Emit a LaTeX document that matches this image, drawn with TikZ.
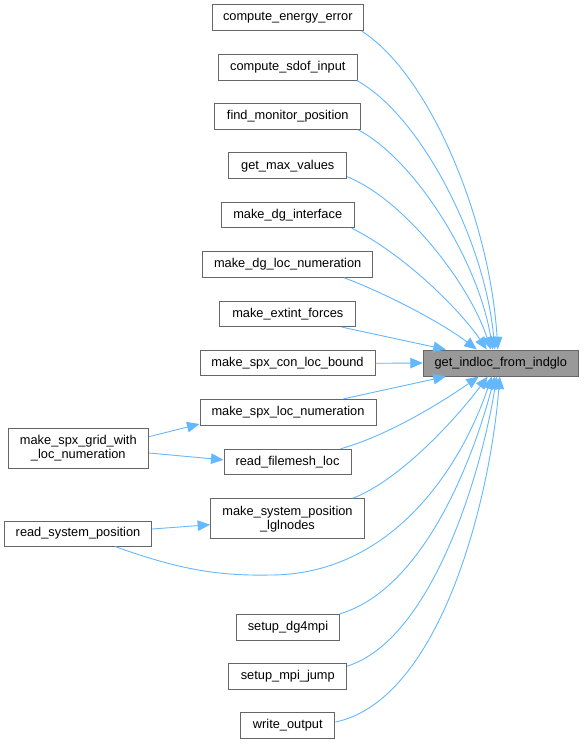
\documentclass[tikz,border=0pt]{standalone}
\usepackage{fontspec}
\setmainfont{Liberation Sans}
\usetikzlibrary{arrows.meta}
\definecolor{edgeblue}{HTML}{63B8FF}
\definecolor{boxgray}{HTML}{666666}
\definecolor{targetfill}{HTML}{999999}
\tikzset{
  fn/.style={draw=boxgray, line width=1pt, fill=white, inner sep=0pt, align=center,
    font=\fontsize{12.8}{14}\selectfont, text=black},
  tgt/.style={fn, fill=targetfill},
  call/.style={draw=edgeblue, line width=0.9pt, -{Triangle[length=12.5pt,width=10.5pt]}},
}
\begin{document}
\begin{tikzpicture}[x=1pt,y=-1pt]
\useasboundingbox[fill=white] (0,0) rectangle (584,744);
% nodes
\node[fn, minimum width=151pt, minimum height=25.7pt] (cee) at (287.8,17.8) {compute\_energy\_error};
\node[fn, minimum width=139pt, minimum height=25.7pt] (csi) at (287.8,67.2) {compute\_sdof\_input};
\node[fn, minimum width=145.7pt, minimum height=26pt] (fmp) at (287.8,116.3) {find\_monitor\_position};
\node[fn, minimum width=117.7pt, minimum height=26pt] (gmv) at (287.8,165.7) {get\_max\_values};
\node[fn, minimum width=133.3pt, minimum height=25pt] (mdi) at (287.7,215.2) {make\_dg\_interface};
\node[fn, minimum width=170pt, minimum height=25.6pt] (mdln) at (287.7,264.5) {make\_dg\_loc\_numeration};
\node[fn, minimum width=135.7pt, minimum height=25pt] (mef) at (287.8,314.2) {make\_extint\_forces};
\node[fn, minimum width=175pt, minimum height=25.3pt] (mscb) at (287.5,363.3) {make\_spx\_con\_loc\_bound};
\node[tgt, minimum width=155pt, minimum height=26pt] (target) at (500.8,363) {get\_indloc\_from\_indglo};
\node[fn, minimum width=176pt, minimum height=25.7pt] (msln) at (288,412.2) {make\_spx\_loc\_numeration};
\node[fn, minimum width=140pt, minimum height=40pt] (msgwln) at (78.3,448.3) {make\_spx\_grid\_with\\\_loc\_numeration};
\node[fn, minimum width=127pt, minimum height=25pt] (rfl) at (287.5,461.8) {read\_filemesh\_loc};
\node[fn, minimum width=153.7pt, minimum height=40pt] (mspl) at (287.5,518.7) {make\_system\_position\\\_lglnodes};
\node[fn, minimum width=147.4pt, minimum height=25pt] (rsp) at (78,533.5) {read\_system\_position};
\node[fn, minimum width=102.7pt, minimum height=25.7pt] (sdg) at (288,627.2) {setup\_dg4mpi};
\node[fn, minimum width=117.7pt, minimum height=25.7pt] (smj) at (287.8,676.5) {setup\_mpi\_jump};
\node[fn, minimum width=94.3pt, minimum height=25.7pt] (wo) at (287.8,725.5) {write\_output};
% edges to target (top)
\draw[call] ([xshift=-2pt]cee.south east) .. controls (430,75) and (490,220) .. ([xshift=-3pt]target.north);
\draw[call] ([xshift=-1pt]csi.south east) .. controls (420,115) and (485,240) .. ([xshift=-6pt]target.north);
\draw[call] ([xshift=-3pt]fmp.south east) .. controls (415,160) and (478,260) .. ([xshift=-8pt]target.north);
\draw[call] ([yshift=2.5pt]gmv.south east) .. controls (405,200) and (470,285) .. ([xshift=-10pt]target.north);
\draw[call] ([xshift=-3pt]mdi.south east) .. controls (405,255) and (460,310) .. ([xshift=-14pt]target.north);
\draw[call] ([xshift=-29pt]mdln.south east) .. controls (390,295) and (445,325) .. ([xshift=-24pt]target.north);
\draw[call] ([xshift=-14pt]mef.south east) -- ([xshift=-55pt]target.north);
\draw[call] (mscb.east) -- (target.west);
% edges to target (bottom)
\draw[call] ([xshift=-33pt]msln.north east) -- ([xshift=-55pt]target.south);
\draw[call] ([xshift=-11pt]rfl.north east) .. controls (390,435) and (445,400) .. ([xshift=-22pt]target.south);
\draw[call] ([xshift=-12pt]mspl.north east) .. controls (400,480) and (455,420) .. ([xshift=-13pt]target.south);
\draw[call] ([xshift=37pt]rsp.south) .. controls (180,570) and (220,576) .. (270,575)
   .. controls (390,575) and (460,470) .. ([xshift=-9pt]target.south);
\draw[call] (sdg.north east) .. controls (420,590) and (470,470) .. ([xshift=-6pt]target.south);
\draw[call] ([yshift=-3pt]smj.north east) .. controls (430,640) and (480,480) .. ([xshift=-4pt]target.south);
\draw[call] ([yshift=3.5pt]wo.east) .. controls (440,700) and (490,500) .. ([xshift=-1pt]target.south);
% left edges
\draw[call] ([yshift=11.6pt]msgwln.east) -- ([yshift=1.5pt]msln.south west);
\draw[call] ([yshift=-4.7pt]msgwln.east) -- ([yshift=2pt]rfl.west);
\draw[call] ([yshift=4.5pt]rsp.east) -- ([yshift=-6pt]mspl.west);
\end{tikzpicture}
\end{document}
